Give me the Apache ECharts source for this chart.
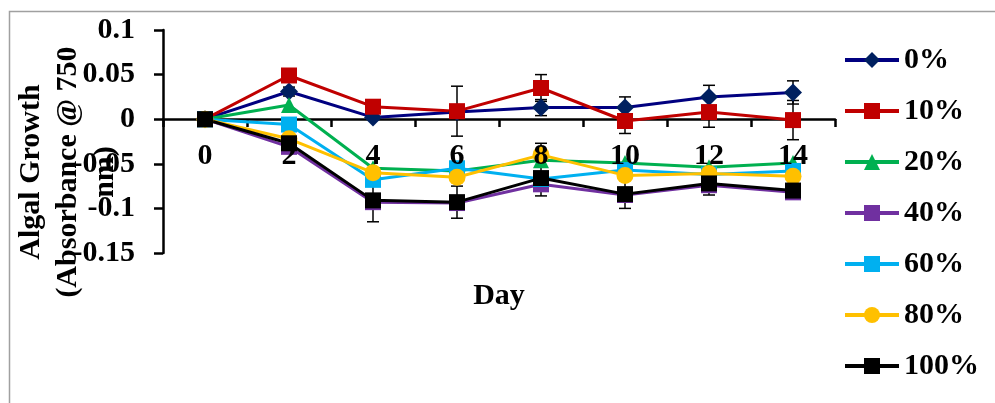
<!DOCTYPE html>
<html>
<head>
<meta charset="utf-8">
<script src="https://cdn.jsdelivr.net/npm/echarts@6/dist/echarts.min.js"></script>
<style>
  html, body { margin: 0; padding: 0; background: #fff; }
  #chart { width: 995px; height: 403px; }
</style>
</head>
<body>
<div id="chart"></div>
<script>
var days = ['0', '2', '4', '6', '8', '10', '12', '14'];
var names = ['0%', '10%', '20%', '40%', '60%', '80%', '100%'];

var g0   = [0, 0.031, 0.002, 0.008, 0.013, 0.013, 0.025, 0.030];
var g10  = [0, 0.049, 0.014, 0.009, 0.035, -0.002, 0.008, -0.001];
var g20  = [0, 0.016, -0.055, -0.058, -0.046, -0.049, -0.054, -0.049];
var g40  = [0, -0.031, -0.093, -0.094, -0.073, -0.085, -0.074, -0.082];
var g60  = [0, -0.006, -0.068, -0.055, -0.067, -0.057, -0.062, -0.058];
var g80  = [0, -0.022, -0.060, -0.065, -0.040, -0.063, -0.061, -0.064];
var g100 = [0, -0.027, -0.091, -0.093, -0.066, -0.084, -0.072, -0.080];

// +/- error, 0 where no bar shows
var e0   = [0, 0.005, 0, 0, 0.009, 0.012, 0.013, 0.013];
var e10  = [0, 0, 0.004, 0.028, 0.015, 0.014, 0.017, 0.022];
var e80  = [0, 0, 0, 0, 0.013, 0, 0, 0];
var e100 = [0, 0.004, 0.024, 0.018, 0.020, 0.016, 0.013, 0.005];

var yTicks = ['-0.15', '-0.1', '-0.05', '0', '0.05', '0.1'];

var font = 'Liberation Serif';
var values = [g0, g10, g20, g40, g60, g80, g100];
var colors = ['#002060', '#C00000', '#00B050', '#7030A0', '#00B0F0', '#FFC000', '#000000'];
var lineColors = ['#000080', '#C00000', '#00B050', '#7030A0', '#00B0F0', '#FFC000', '#000000'];
var symbols = ['diamond', 'rect', 'triangle', 'rect', 'rect', 'circle', 'rect'];
var sizes = [18, 16, 16, 16, 16, 17, 16];

var series = [];
for (var i = 0; i < names.length; i++) {
  series.push({
    name: names[i],
    type: 'line',
    data: values[i],
    symbol: symbols[i],
    symbolSize: sizes[i],
    itemStyle: { color: colors[i] },
    lineStyle: { color: lineColors[i], width: 3 },
    z: 3
  });
}

// error bars
var errPairs = [[g0, e0], [g10, e10], [g80, e80], [g100, e100]];
var errData = [];
errPairs.forEach(function (p) {
  p[0].forEach(function (v, k) {
    if (p[1][k] > 0) errData.push([k, v - p[1][k], v + p[1][k]]);
  });
});
series.push({
  type: 'custom',
  silent: true,
  z: 2,
  data: errData,
  encode: { x: 0, y: [1, 2] },
  renderItem: function (params, api) {
    var top = api.coord([api.value(0), api.value(2)]);
    var bot = api.coord([api.value(0), api.value(1)]);
    var w = 6;
    var st = { stroke: '#000', lineWidth: 1.5 };
    return {
      type: 'group',
      children: [
        { type: 'line', shape: { x1: top[0], y1: top[1], x2: bot[0], y2: bot[1] }, style: st },
        { type: 'line', shape: { x1: top[0] - w, y1: top[1], x2: top[0] + w, y2: top[1] }, style: st },
        { type: 'line', shape: { x1: bot[0] - w, y1: bot[1], x2: bot[0] + w, y2: bot[1] }, style: st }
      ]
    };
  }
});

var tickFont = { fontFamily: font, fontWeight: 'bold', fontSize: 30, color: '#000' };

var chart = echarts.init(document.getElementById('chart'));
chart.setOption({
  animation: false,
  backgroundColor: '#fff',
  grid: { left: 163, right: 160, top: 30, bottom: 150, containLabel: false, outerBoundsMode: 'none' },
  legend: {
    orient: 'vertical',
    left: 838,
    top: 40,
    itemWidth: 54,
    itemHeight: 20,
    itemGap: 21,
    lineStyle: { width: 4 },
    data: names,
    textStyle: { fontFamily: font, fontWeight: 'bold', fontSize: 30, color: '#000', lineHeight: 30 }
  },
  xAxis: [
    {
      // axis line, ticks and name; sits at y = 0 (0.15 of 0.25 above the grid bottom)
      type: 'category',
      data: days,
      boundaryGap: true,
      position: 'bottom',
      offset: -134,
      name: 'Day',
      nameLocation: 'middle',
      nameGap: 162,
      nameTextStyle: { fontFamily: font, fontWeight: 'bold', fontSize: 30, color: '#000' },
      axisLine: { onZero: false, lineStyle: { color: '#000', width: 2.5 } },
      axisTick: { show: true, length: 8, lineStyle: { color: '#000', width: 2.5 } },
      axisLabel: { show: false },
      splitLine: { show: false }
    },
    {
      // labels only, drawn above the lines
      type: 'category',
      data: days,
      boundaryGap: true,
      position: 'bottom',
      offset: -134,
      z: 6,
      axisLine: { show: false, onZero: false },
      axisTick: { show: false },
      axisLabel: Object.assign({ margin: 22 }, tickFont),
      splitLine: { show: false }
    }
  ],
  yAxis: {
    type: 'value',
    min: -0.15,
    max: 0.1,
    interval: 0.05,
    axisLine: { show: true, lineStyle: { color: '#000', width: 2.5 } },
    axisTick: { show: true, length: 9, lineStyle: { color: '#000', width: 2.5 } },
    axisLabel: Object.assign({
      margin: 28,
      formatter: function (v) {
        var s = String(+v.toFixed(2));
        return yTicks.indexOf(s) >= 0 ? s : '';
      }
    }, tickFont),
    splitLine: { show: false }
  },
  graphic: [
    {
      type: 'rect',
      shape: { x: 9.5, y: 11.5, width: 1000, height: 400 },
      style: { fill: 'none', stroke: '#a0a0a0', lineWidth: 1.5 },
      z: -1
    },
    {
      type: 'text',
      x: 68,
      y: 172,
      rotation: Math.PI / 2,
      z: 10,
      style: {
        text: 'Algal Growth\n(Absorbance @ 750\nnm)',
        fontFamily: font,
        fontWeight: 'bold',
        fontSize: 30,
        lineHeight: 37,
        fill: '#000',
        align: 'center',
        verticalAlign: 'middle'
      }
    }
  ],
  series: series
});
</script>
</body>
</html>
